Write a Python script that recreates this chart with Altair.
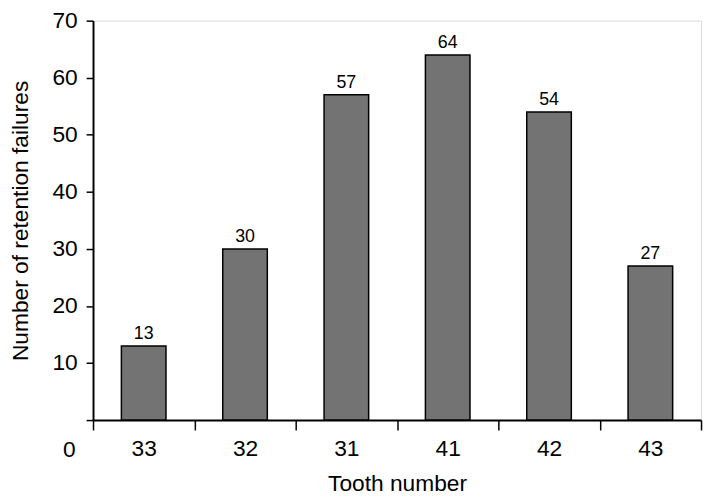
import altair as alt
import pandas as pd

teeth = ["33", "32", "31", "41", "42", "43"]
failures = [13, 30, 57, 64, 54, 27]

df = pd.DataFrame({"tooth": teeth, "failures": failures})

W, H = 615, 404
FONT = "Liberation Sans"

x_enc = alt.X(
    "tooth:N",
    sort=teeth,
    scale=alt.Scale(paddingInner=0, paddingOuter=0),
    axis=alt.Axis(
        title="Tooth number",
        labelAngle=0,
        tickBand="extent",
        tickSize=10,
        tickWidth=1.5,
        tickColor="black",
        domainColor="black",
        domainWidth=2,
        labelFontSize=23,
        labelPadding=8,
        labelColor="black",
        titleFontSize=23,
        titleFontWeight="normal",
        titleColor="black",
        titlePadding=12,
    ),
)
y_enc = alt.Y(
    "failures:Q",
    scale=alt.Scale(domain=[0, 70], nice=False),
    axis=alt.Axis(
        title="Number of retention failures",
        values=[0, 10, 20, 30, 40, 50, 60, 70],
        labelExpr="datum.value == 0 ? '' : datum.label",
        grid=False,
        tickSize=7,
        tickWidth=1.5,
        tickColor="black",
        domainColor="black",
        domainWidth=2,
        labelFontSize=23,
        labelPadding=9,
        labelColor="black",
        titleFontSize=23,
        titleFontWeight="normal",
        titleColor="black",
        titlePadding=20,
    ),
)

base = alt.Chart(df)
bars = base.mark_bar(
    color="#737373", stroke="black", strokeWidth=1.5, width=alt.RelativeBandSize(0.44)
).encode(x=x_enc, y=y_enc)
labels = base.mark_text(
    baseline="alphabetic", dy=-7, fontSize=18, font=FONT, color="black"
).encode(x=alt.X("tooth:N", sort=teeth), y="failures:Q", text="failures:Q")

zero_df = pd.DataFrame({"t": ["0"]})
zero = alt.Chart(zero_df).mark_text(
    fontSize=23, font=FONT, color="black", align="center", baseline="middle"
).encode(x=alt.value(-24), y=alt.value(H + 30), text="t:N")

chart = (
    alt.layer(bars, labels, zero)
    .properties(
        width=W,
        height=H,
        padding={"left": 86, "top": 10, "right": 3, "bottom": 76},
        autosize=alt.AutoSizeParams(type="none"),
    )
    .configure_view(stroke=None)
    .configure(font=FONT)
)

chart.save("out.html", embed_options={"renderer": "svg", "actions": False})
